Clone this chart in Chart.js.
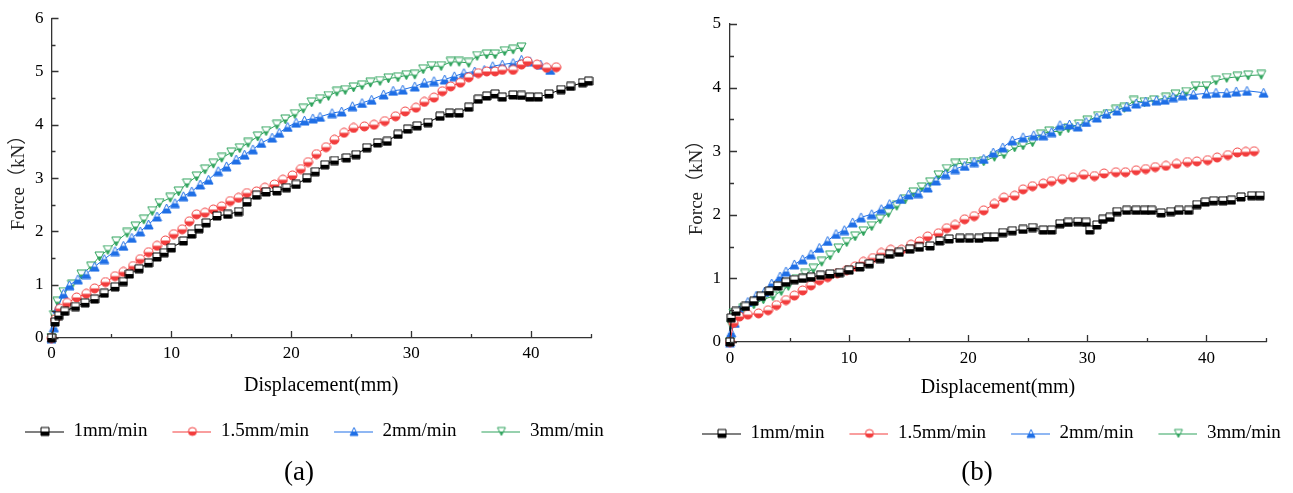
<!DOCTYPE html>
<html>
<head>
<meta charset="utf-8">
<script src="https://cdn.jsdelivr.net/npm/chart.js@4.4.1/dist/chart.umd.min.js"></script>
<style>
html,body{margin:0;overflow:hidden}
body{background:#fff;width:1293px;height:493px;position:relative;font-family:'Liberation Serif',serif}
#wrapA{position:absolute;left:0;top:0;width:677px;height:493px}
#wrapB{position:absolute;left:677px;top:0;width:640px;height:493px}
.cap{position:absolute;top:456px;width:80px;text-align:center;font-size:27px;color:#000}
</style>
</head>
<body>
<div id="wrapA"><canvas id="chartA"></canvas></div>
<div id="wrapB"><canvas id="chartB"></canvas></div>
<div class="cap" style="left:259px">(a)</div>
<div class="cap" style="left:937px">(b)</div>
<script>
const labels = ["1mm/min", "1.5mm/min", "2mm/min", "3mm/min"];
const colors = ["#000000", "#f23c3c", "#1f6fe6", "#2ea35c"];
const shapes = ["square", "circle", "up", "down"];

const xTicks = [0, 10, 20, 30, 40];
const xMinor = [5, 15, 25, 35, 45];
const yTicksA = [0, 1, 2, 3, 4, 5, 6];
const yMinorA = [0.5, 1.5, 2.5, 3.5, 4.5, 5.5];
const yTicksB = [0, 1, 2, 3, 4, 5];
const yMinorB = [0.5, 1.5, 2.5, 3.5, 4.5];

// (a)
const a1x = [0,0.3,0.6,1.1,2.0,2.8,3.6,4.4,5.3,6.0,6.5,7.3,8.1,8.8,9.4,10.0,11.0,11.7,12.3,12.9,13.8,14.7,15.6,16.3,17.1,17.9,18.8,19.6,20.4,21.3,22.0,22.8,23.6,24.6,25.4,26.3,27.2,28.0,28.9,29.7,30.5,31.4,32.4,33.2,34.0,34.8,35.6,36.3,37.0,37.6,38.5,39.2,39.9,40.6,41.5,42.5,43.3,44.3,44.8];
const a1y = [0,0.3,0.42,0.5,0.59,0.66,0.73,0.84,0.96,1.06,1.2,1.3,1.41,1.52,1.6,1.69,1.82,1.95,2.05,2.16,2.29,2.32,2.37,2.55,2.68,2.74,2.76,2.82,2.88,3.0,3.12,3.25,3.33,3.38,3.44,3.57,3.66,3.69,3.82,3.92,3.98,4.04,4.16,4.22,4.22,4.33,4.48,4.54,4.58,4.52,4.56,4.55,4.52,4.52,4.58,4.66,4.72,4.79,4.82];
const a2x = [0,0.3,0.7,1.3,2.1,2.9,3.6,4.5,5.3,6.0,6.8,7.4,8.1,8.8,9.5,10.2,10.9,11.5,12.1,12.8,13.5,14.2,14.9,15.6,16.3,17.1,17.8,18.6,19.3,20.1,20.8,21.4,22.1,22.9,23.6,24.4,25.2,26.1,26.9,27.8,28.7,29.5,30.4,31.1,31.9,32.6,33.3,34.1,34.8,35.6,36.3,37.0,37.6,38.5,39.2,39.7,40.5,41.3,42.1];
const a2y = [0,0.35,0.55,0.66,0.76,0.83,0.93,1.05,1.16,1.24,1.35,1.48,1.61,1.73,1.83,1.95,2.04,2.19,2.32,2.35,2.41,2.47,2.57,2.63,2.72,2.75,2.82,2.88,2.97,3.05,3.17,3.3,3.45,3.58,3.72,3.85,3.94,3.97,4.0,4.07,4.16,4.25,4.32,4.43,4.51,4.63,4.72,4.79,4.89,4.97,5.0,5.0,5.03,5.03,5.13,5.19,5.13,5.07,5.08];
const a3x = [0,0.2,0.5,1.0,1.5,2.2,2.9,3.6,4.4,5.3,6.0,6.7,7.4,8.1,8.8,9.6,10.3,11.0,11.7,12.4,13.1,13.9,14.6,15.4,16.1,16.8,17.5,18.4,19.0,19.7,20.4,21.1,21.8,22.4,23.4,24.2,25.1,25.9,26.7,27.7,28.5,29.3,30.3,31.1,31.9,32.8,33.6,34.4,35.3,36.1,36.8,37.6,38.5,39.2,39.9,40.8,41.6];
const a3y = [0,0.2,0.55,0.83,0.99,1.1,1.2,1.34,1.48,1.63,1.73,1.88,2.0,2.13,2.28,2.43,2.53,2.66,2.75,2.88,2.97,3.13,3.22,3.35,3.44,3.54,3.66,3.76,3.85,3.96,4.04,4.08,4.12,4.15,4.22,4.25,4.35,4.41,4.47,4.57,4.64,4.66,4.72,4.79,4.82,4.85,4.91,4.97,5.0,5.03,5.1,5.13,5.16,5.22,5.19,5.13,5.03];
const a4x = [0,0.2,0.5,1.0,1.7,2.5,3.3,4.0,4.7,5.4,6.3,7.0,7.7,8.4,9.0,9.9,10.6,11.3,12.1,12.8,13.5,14.2,15.0,15.7,16.4,17.2,17.9,18.8,19.5,20.3,21.0,21.7,22.4,23.1,23.8,24.5,25.2,25.9,26.6,27.4,28.1,28.9,29.6,30.3,31.0,31.7,32.5,33.3,34.0,34.8,35.5,36.3,37.0,37.8,38.5,39.2];
const a4y = [0,0.43,0.68,0.86,1.0,1.19,1.34,1.53,1.65,1.81,1.97,2.09,2.22,2.38,2.53,2.63,2.75,2.9,3.03,3.16,3.27,3.38,3.48,3.56,3.66,3.78,3.88,4.0,4.1,4.2,4.3,4.42,4.48,4.54,4.62,4.65,4.7,4.74,4.79,4.82,4.87,4.89,4.93,4.94,5.04,5.1,5.1,5.18,5.18,5.16,5.29,5.32,5.32,5.38,5.41,5.45];

// (b)
const b1x = [0,0.1,0.5,1.3,2.0,2.6,3.3,4.0,4.7,5.4,6.1,6.8,7.6,8.4,9.2,10.0,10.9,11.7,12.6,13.4,14.2,15.1,15.9,16.8,17.6,18.4,19.3,20.1,20.9,21.6,22.2,22.9,23.7,24.6,25.4,26.3,27.0,27.7,28.4,29.2,29.9,30.2,30.8,31.3,31.9,32.5,33.3,34.1,34.8,35.4,36.2,37.0,37.7,38.5,39.2,39.9,40.6,41.4,42.1,42.9,43.8,44.5];
const b1y = [0,0.38,0.48,0.56,0.64,0.72,0.8,0.88,0.94,0.98,1.0,1.02,1.05,1.07,1.09,1.13,1.18,1.23,1.31,1.38,1.41,1.46,1.49,1.51,1.59,1.62,1.63,1.63,1.63,1.65,1.65,1.72,1.75,1.77,1.8,1.76,1.76,1.86,1.88,1.89,1.88,1.76,1.84,1.93,1.96,2.05,2.07,2.07,2.07,2.07,2.03,2.05,2.07,2.07,2.16,2.2,2.22,2.22,2.23,2.28,2.3,2.3];
const b2x = [0,0.3,0.8,1.5,2.4,3.2,3.9,4.7,5.4,6.1,6.8,7.5,8.2,9.0,9.8,10.5,11.2,12.0,12.7,13.5,14.4,15.2,15.9,16.6,17.5,18.2,18.9,19.7,20.5,21.3,22.2,23.0,23.9,24.6,25.4,26.3,27.0,27.9,28.8,29.7,30.6,31.4,32.4,33.2,34.1,34.9,35.7,36.6,37.5,38.4,39.2,40.1,40.9,41.8,42.6,43.3,44.0];
const b2y = [0,0.3,0.4,0.43,0.45,0.5,0.58,0.66,0.73,0.81,0.89,0.97,1.02,1.08,1.13,1.19,1.26,1.32,1.4,1.45,1.45,1.53,1.58,1.66,1.71,1.79,1.84,1.93,1.98,2.07,2.17,2.27,2.3,2.4,2.45,2.49,2.53,2.56,2.59,2.63,2.61,2.65,2.67,2.67,2.7,2.72,2.75,2.77,2.8,2.83,2.84,2.86,2.9,2.94,2.98,2.99,3.0];
const b3x = [0,0.1,0.4,0.8,1.5,2.2,2.9,3.5,4.2,4.7,5.4,6.1,6.8,7.5,8.2,8.9,9.6,10.3,11.0,11.9,12.7,13.4,14.3,15.0,15.8,16.6,17.3,18.1,18.9,19.7,20.5,21.3,22.1,22.9,23.7,24.6,25.5,26.3,27.0,27.7,28.5,29.2,29.9,30.8,31.6,32.5,33.3,34.1,34.9,35.8,36.5,37.2,38.0,38.9,40.0,40.8,41.7,42.5,43.4,44.8];
const b3y = [0,0.15,0.3,0.5,0.63,0.73,0.79,0.92,1.03,1.11,1.22,1.3,1.38,1.48,1.59,1.7,1.76,1.88,1.96,2.01,2.09,2.17,2.25,2.32,2.34,2.43,2.54,2.64,2.72,2.77,2.83,2.88,2.98,3.06,3.17,3.22,3.25,3.25,3.3,3.41,3.42,3.39,3.46,3.53,3.59,3.64,3.7,3.75,3.78,3.8,3.81,3.85,3.88,3.89,3.91,3.92,3.92,3.94,3.95,3.92];
const b4x = [0,0.1,0.3,1.1,2.0,2.8,3.6,4.3,4.9,5.6,6.3,7.0,7.7,8.4,9.1,9.8,10.5,11.2,11.9,12.6,13.3,14.0,14.7,15.4,16.1,16.8,17.5,18.2,18.9,19.6,20.5,21.3,22.2,23.0,23.9,24.6,25.4,26.1,26.8,27.7,28.4,29.3,30.0,30.9,31.7,32.4,33.1,33.9,34.8,35.6,36.6,37.4,38.3,39.1,40.0,40.8,41.7,42.6,43.5,44.6];
const b4y = [0,0.27,0.45,0.52,0.59,0.67,0.72,0.8,0.88,0.99,1.07,1.15,1.26,1.36,1.47,1.57,1.66,1.74,1.82,1.93,2.03,2.14,2.24,2.35,2.43,2.51,2.62,2.72,2.8,2.81,2.83,2.84,2.91,2.95,3.06,3.09,3.14,3.26,3.31,3.31,3.36,3.42,3.48,3.55,3.58,3.65,3.68,3.79,3.77,3.8,3.84,3.89,3.93,4.02,4.02,4.11,4.15,4.17,4.19,4.2];

const serif = "'Liberation Serif', 'Times New Roman', 'Noto Sans CJK SC', serif";
const axisColor = "#333";

// half filled symbol: white top, coloured bottom
function marker(shape, color, s) {
  var c = document.createElement("canvas");
  c.width = s + 2; c.height = s + 2;
  var g = c.getContext("2d");
  var m = (s + 2) / 2;
  g.beginPath();
  if (shape == "square") g.rect(1, 1, s, s);
  else if (shape == "circle") g.arc(m, m, s / 2, 0, Math.PI * 2);
  else if (shape == "up") { g.moveTo(m, 1); g.lineTo(s + 1, s + 1); g.lineTo(1, s + 1); g.closePath(); }
  else { g.moveTo(1, 1); g.lineTo(s + 1, 1); g.lineTo(m, s + 1); g.closePath(); }
  g.save(); g.clip();
  g.fillStyle = "#fff"; g.fillRect(0, 0, c.width, c.height);
  g.fillStyle = color; g.fillRect(0, m, c.width, c.height);
  g.restore();
  g.strokeStyle = color; g.lineWidth = 1; g.stroke();
  return c;
}

function legendIcon(shape, color) {
  var c = document.createElement("canvas");
  c.width = 44; c.height = 12;
  var g = c.getContext("2d");
  g.strokeStyle = color; g.lineWidth = 1;
  g.beginPath(); g.moveTo(5, 6.5); g.lineTo(44, 6.5); g.stroke();
  g.drawImage(marker(shape, color, 8), 20, 1);
  return c;
}

function tickMarks(yMajor, yMinor) {
  return {
    id: "tickMarks",
    afterDraw: function(chart) {
      var ctx = chart.ctx, sx = chart.scales.x, sy = chart.scales.y;
      var bottom = chart.chartArea.bottom, left = chart.chartArea.left;
      ctx.save();
      ctx.strokeStyle = axisColor; ctx.lineWidth = 1.3;
      ctx.beginPath();
      xTicks.forEach(function(v) { var p = Math.round(sx.getPixelForValue(v)) + 0.5; ctx.moveTo(p, bottom); ctx.lineTo(p, bottom - 7); });
      xMinor.forEach(function(v) { var p = Math.round(sx.getPixelForValue(v)) + 0.5; ctx.moveTo(p, bottom); ctx.lineTo(p, bottom - 4); });
      yMajor.forEach(function(v) { var p = Math.round(sy.getPixelForValue(v)) + 0.5; ctx.moveTo(left, p); ctx.lineTo(left + 7, p); });
      yMinor.forEach(function(v) { var p = Math.round(sy.getPixelForValue(v)) + 0.5; ctx.moveTo(left, p); ctx.lineTo(left + 4, p); });
      ctx.stroke();
      ctx.restore();
    }
  };
}

function makeChart(id, xs, ys, o) {
  var datasets = xs.map(function(xv, i) {
    var s = shapes[i] == "square" ? 8 : 9;
    return {
      label: labels[i],
      data: xv.map(function(x, j) { return {x: x, y: ys[i][j]}; }),
      borderColor: colors[i],
      borderWidth: 1,
      pointStyle: marker(shapes[i], colors[i], s),
      pointRadius: 4,
      tension: 0,
      clip: false
    };
  });
  return new Chart(document.getElementById(id), {
    type: "line",
    data: {datasets: datasets},
    options: {
      animation: false,
      responsive: true,
      maintainAspectRatio: false,
      layout: {padding: o.padding},
      plugins: {
        tooltip: {enabled: false},
        legend: {
          position: "bottom",
          align: "start",
          labels: {
            usePointStyle: true,
            pointStyleWidth: 44,
            padding: 20,
            color: "#000",
            font: {family: serif, size: 19},
            generateLabels: function(chart) {
              return chart.data.datasets.map(function(d, i) {
                return {text: d.label, pointStyle: legendIcon(shapes[i], colors[i]), fillStyle: "#fff", strokeStyle: "#fff", lineWidth: 0, fontColor: "#000", hidden: false, datasetIndex: i};
              });
            }
          }
        }
      },
      scales: {
        x: {
          type: "linear", min: 0, max: 45,
          afterBuildTicks: function(s) { s.ticks = xTicks.map(function(v) { return {value: v}; }); },
          afterFit: function(s) { s.height = o.xHeight; },
          grid: {display: false, drawTicks: false},
          border: {display: true, color: axisColor, width: 1.3},
          ticks: {color: "#000", font: {family: serif, size: 17}, padding: o.xPad, maxRotation: 0},
          title: {display: true, text: "Displacement(mm)", color: "#000", font: {family: serif, size: 20}, padding: {top: 0, bottom: 4}}
        },
        y: {
          type: "linear", min: 0, max: o.ymax,
          afterBuildTicks: function(s) { s.ticks = o.yMajor.map(function(v) { return {value: v}; }); },
          afterFit: function(s) { s.width = o.yWidth; },
          grid: {display: false, drawTicks: false},
          border: {display: true, color: axisColor, width: 1.3},
          ticks: {color: "#000", font: {family: serif, size: 17}, padding: o.yPad, callback: function(v) { return String(v); }},
          title: {display: true, text: "Force（kN）", color: "#222", font: {family: serif, size: 19}, padding: {top: o.yTitlePad, bottom: 0}}
        },
        // empty right margin, so the legend keeps one row
        yRight: {
          type: "linear", position: "right", display: true,
          afterFit: function(s) { s.width = o.rightGap; },
          grid: {display: false, drawTicks: false},
          border: {display: false},
          ticks: {display: false}
        }
      }
    },
    plugins: [tickMarks(o.yMajor, o.yMinor)]
  });
}

makeChart("chartA", [a1x, a2x, a3x, a4x], [a1y, a2y, a3y, a4y], {
  ymax: 6, yMajor: yTicksA, yMinor: yMinorA,
  padding: {left: 0, top: 17, right: 0, bottom: 42},
  rightGap: 86, yWidth: 51.5, xHeight: 64, xPad: 5, yPad: 8, yTitlePad: 8
});
makeChart("chartB", [b1x, b2x, b3x, b4x], [b1y, b2y, b3y, b4y], {
  ymax: 5, yMajor: yTicksB, yMinor: yMinorB,
  padding: {left: 0, top: 24, right: 0, bottom: 40},
  rightGap: 51, yWidth: 53, xHeight: 62, xPad: 6, yPad: 9, yTitlePad: 9
});
</script>
</body>
</html>
